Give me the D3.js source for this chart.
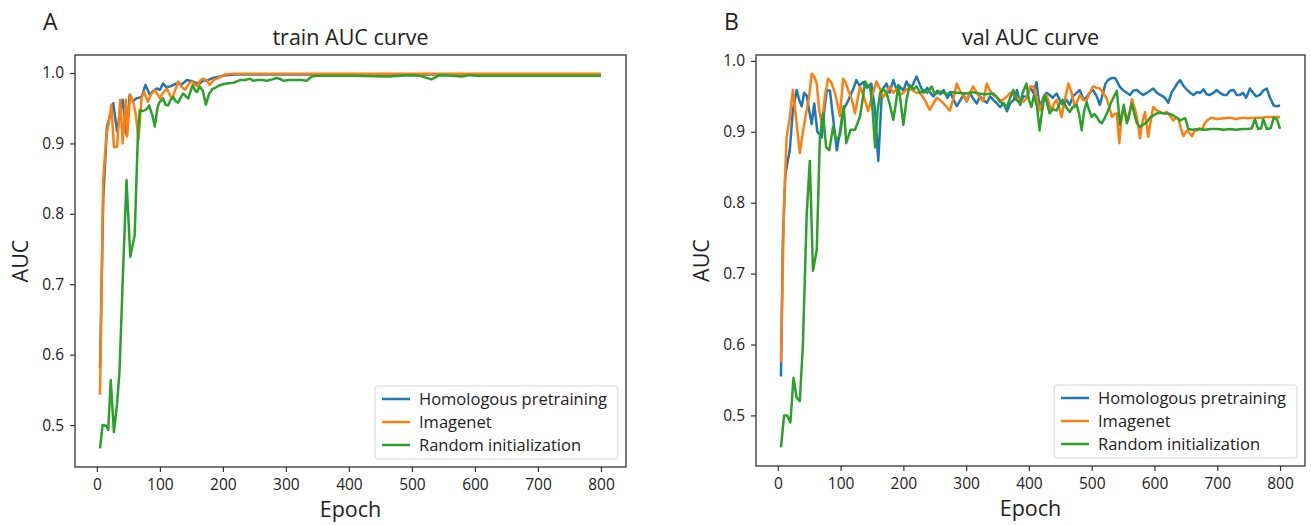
<!DOCTYPE html>
<html>
<head>
<meta charset="utf-8">
<script src="https://cdn.jsdelivr.net/npm/d3@7"></script>
<style>
  body { margin: 0; background: #fff; }
  svg text { font-family: "Open Sans", "DejaVu Sans", sans-serif; fill: #222; }
</style>
</head>
<body>
<svg id="chart" width="1311" height="525"></svg>
<script>
// series names and colours (matplotlib default cycle)
const seriesNames = ['Homologous pretraining', 'Imagenet', 'Random initialization']
const seriesColors = ['#1f77b4', '#ff7f0e', '#2ca02c']
const xTicks = [0, 100, 200, 300, 400, 500, 600, 700, 800]
const yTicks = [0.5, 0.6, 0.7, 0.8, 0.9, 1.0]

// [epoch, AUC]
const trainHomologous = [[5,0.581],[10,0.82],[16,0.924],[21,0.94],[26,0.957],[32,0.917],[37,0.945],[41,0.962],[47,0.912],[52,0.969],[57,0.96],[63,0.964],[71,0.966],[77,0.983],[84,0.969],[90,0.975],[95,0.978],[100,0.976],[105,0.985],[110,0.98],[116,0.981],[121,0.983],[126,0.985],[135,0.984],[143,0.99],[152,0.988],[158,0.986],[163,0.985],[170,0.99],[174,0.989],[184,0.993],[195,0.995],[206,0.997],[220,0.998],[300,0.998],[400,0.998],[500,0.998],[600,0.998],[700,0.998],[800,0.998]]
const trainImagenet = [[5,0.543],[10,0.848],[15,0.91],[19,0.93],[23,0.955],[27,0.895],[32,0.895],[37,0.962],[41,0.90],[46,0.962],[48,0.91],[53,0.969],[58,0.958],[62,0.94],[66,0.905],[71,0.965],[75,0.973],[81,0.959],[86,0.97],[92,0.976],[100,0.964],[105,0.972],[111,0.978],[119,0.963],[124,0.975],[129,0.988],[135,0.98],[140,0.976],[146,0.985],[151,0.988],[159,0.981],[163,0.988],[168,0.992],[174,0.99],[179,0.983],[185,0.99],[190,0.992],[197,0.995],[203,0.998],[215,0.999],[300,0.999],[400,0.999],[500,0.999],[600,0.999],[700,0.999],[800,0.999]]
const trainRandom = [[5,0.467],[9,0.50],[15,0.499],[18,0.493],[22,0.564],[27,0.49],[32,0.53],[36,0.578],[41,0.706],[47,0.848],[53,0.739],[60,0.77],[65,0.91],[68,0.947],[72,0.946],[76,0.947],[80,0.95],[83,0.954],[88,0.94],[92,0.924],[96,0.95],[99,0.958],[105,0.964],[109,0.955],[113,0.954],[117,0.962],[121,0.966],[125,0.96],[129,0.958],[133,0.965],[137,0.971],[141,0.967],[145,0.964],[149,0.975],[152,0.983],[156,0.975],[159,0.973],[163,0.981],[168,0.975],[173,0.955],[178,0.97],[183,0.977],[188,0.979],[193,0.982],[200,0.984],[206,0.985],[216,0.986],[222,0.988],[227,0.99],[235,0.99],[243,0.992],[248,0.989],[255,0.99],[262,0.99],[270,0.989],[278,0.991],[285,0.993],[290,0.992],[296,0.989],[305,0.99],[317,0.99],[325,0.99],[333,0.989],[341,0.995],[350,0.996],[400,0.996],[465,0.995],[480,0.996],[497,0.997],[513,0.996],[531,0.991],[544,0.997],[565,0.996],[579,0.995],[592,0.997],[603,0.996],[700,0.996],[800,0.996]]

const valHomologous = [[5,0.555],[8,0.746],[12,0.84],[19,0.874],[24,0.93],[30,0.959],[34,0.945],[38,0.936],[42,0.955],[46,0.951],[50,0.93],[54,0.911],[58,0.94],[63,0.90],[70,0.892],[74,0.93],[78,0.959],[83,0.958],[88,0.92],[94,0.874],[99,0.90],[104,0.931],[110,0.94],[115,0.950],[120,0.96],[125,0.973],[130,0.965],[136,0.97],[142,0.962],[149,0.968],[155,0.93],[160,0.859],[166,0.959],[173,0.968],[178,0.955],[184,0.973],[189,0.96],[194,0.964],[200,0.958],[205,0.971],[211,0.96],[216,0.968],[221,0.978],[227,0.965],[232,0.955],[238,0.962],[243,0.955],[248,0.950],[254,0.958],[259,0.953],[264,0.959],[270,0.948],[275,0.955],[280,0.945],[285,0.936],[291,0.945],[296,0.952],[301,0.943],[306,0.955],[311,0.947],[317,0.94],[322,0.95],[327,0.945],[333,0.941],[338,0.95],[343,0.945],[349,0.94],[354,0.935],[360,0.94],[365,0.929],[370,0.94],[376,0.945],[381,0.959],[386,0.938],[391,0.95],[397,0.949],[402,0.963],[407,0.955],[412,0.97],[417,0.935],[423,0.948],[428,0.955],[433,0.952],[438,0.948],[444,0.954],[449,0.945],[454,0.938],[460,0.945],[465,0.938],[470,0.95],[476,0.955],[481,0.959],[487,0.945],[492,0.949],[497,0.955],[502,0.959],[508,0.95],[513,0.938],[518,0.955],[522,0.968],[526,0.973],[532,0.976],[537,0.976],[541,0.97],[545,0.963],[551,0.958],[556,0.955],[561,0.952],[566,0.958],[572,0.959],[577,0.955],[582,0.952],[588,0.955],[593,0.958],[598,0.961],[604,0.955],[609,0.952],[614,0.95],[619,0.945],[622,0.941],[627,0.955],[632,0.962],[636,0.968],[641,0.973],[646,0.965],[652,0.959],[657,0.955],[662,0.952],[668,0.956],[673,0.955],[678,0.96],[683,0.953],[688,0.952],[694,0.955],[699,0.959],[704,0.955],[710,0.952],[715,0.952],[720,0.958],[726,0.959],[731,0.952],[736,0.952],[741,0.955],[746,0.948],[752,0.961],[757,0.955],[762,0.95],[768,0.952],[773,0.958],[779,0.961],[784,0.948],[790,0.937],[795,0.936],[800,0.937]]
const valImagenet = [[5,0.575],[10,0.80],[14,0.892],[19,0.92],[24,0.959],[29,0.92],[35,0.87],[40,0.90],[46,0.931],[50,0.95],[54,0.982],[58,0.978],[62,0.968],[66,0.93],[70,0.911],[75,0.95],[80,0.975],[85,0.97],[91,0.955],[95,0.94],[99,0.922],[104,0.975],[108,0.97],[112,0.959],[118,0.945],[123,0.926],[127,0.945],[131,0.964],[137,0.95],[144,0.929],[150,0.95],[157,0.971],[163,0.96],[168,0.949],[173,0.955],[178,0.964],[184,0.955],[189,0.96],[194,0.952],[200,0.955],[205,0.96],[211,0.961],[216,0.958],[221,0.955],[226,0.955],[232,0.948],[237,0.94],[242,0.931],[248,0.94],[253,0.948],[258,0.945],[264,0.94],[269,0.935],[274,0.930],[280,0.948],[285,0.968],[290,0.958],[296,0.95],[301,0.943],[306,0.955],[311,0.964],[317,0.955],[322,0.948],[327,0.943],[333,0.968],[338,0.958],[343,0.952],[349,0.949],[354,0.945],[359,0.945],[365,0.95],[370,0.955],[375,0.952],[381,0.948],[386,0.945],[391,0.942],[396,0.947],[402,0.964],[407,0.964],[412,0.95],[417,0.93],[423,0.945],[428,0.952],[432,0.94],[436,0.93],[440,0.94],[444,0.945],[448,0.935],[452,0.921],[457,0.945],[463,0.968],[468,0.955],[473,0.935],[478,0.945],[481,0.952],[487,0.945],[492,0.945],[497,0.955],[502,0.964],[508,0.962],[513,0.961],[518,0.955],[524,0.947],[528,0.935],[532,0.921],[536,0.925],[540,0.926],[544,0.884],[547,0.915],[550,0.93],[554,0.925],[558,0.916],[564,0.946],[568,0.935],[572,0.921],[577,0.891],[581,0.915],[585,0.928],[590,0.893],[594,0.915],[598,0.935],[604,0.93],[609,0.928],[614,0.926],[620,0.928],[625,0.922],[630,0.916],[634,0.92],[638,0.919],[642,0.905],[646,0.894],[652,0.902],[656,0.898],[660,0.894],[664,0.902],[668,0.902],[672,0.905],[676,0.903],[680,0.912],[684,0.916],[690,0.92],[700,0.918],[710,0.919],[720,0.92],[730,0.918],[740,0.92],[750,0.919],[760,0.92],[770,0.92],[780,0.921],[790,0.921],[800,0.921]]
const valRandom = [[5,0.455],[10,0.50],[15,0.50],[20,0.49],[25,0.553],[30,0.525],[35,0.52],[40,0.60],[46,0.784],[51,0.859],[56,0.704],[62,0.733],[67,0.892],[72,0.926],[77,0.878],[82,0.874],[88,0.907],[93,0.888],[99,0.895],[105,0.936],[109,0.884],[116,0.903],[123,0.903],[131,0.922],[135,0.945],[139,0.971],[143,0.965],[147,0.964],[151,0.93],[155,0.878],[159,0.93],[163,0.955],[168,0.96],[173,0.955],[178,0.94],[184,0.917],[188,0.94],[192,0.966],[196,0.94],[200,0.910],[205,0.945],[210,0.966],[216,0.96],[221,0.964],[227,0.955],[232,0.959],[238,0.955],[245,0.964],[249,0.955],[253,0.954],[258,0.957],[264,0.955],[269,0.953],[275,0.956],[285,0.955],[301,0.954],[310,0.956],[320,0.954],[330,0.953],[343,0.954],[348,0.95],[354,0.942],[360,0.94],[365,0.935],[370,0.948],[375,0.959],[380,0.945],[386,0.940],[390,0.955],[396,0.968],[400,0.945],[404,0.935],[408,0.952],[413,0.935],[417,0.902],[421,0.93],[425,0.952],[429,0.94],[433,0.926],[438,0.932],[444,0.930],[449,0.94],[454,0.945],[459,0.935],[465,0.928],[470,0.935],[476,0.938],[480,0.925],[484,0.902],[488,0.93],[492,0.942],[496,0.93],[500,0.921],[504,0.925],[508,0.921],[512,0.915],[516,0.912],[521,0.92],[526,0.93],[530,0.94],[534,0.947],[540,0.958],[545,0.910],[551,0.938],[556,0.912],[560,0.925],[564,0.94],[568,0.925],[572,0.912],[577,0.907],[582,0.91],[588,0.914],[593,0.92],[598,0.923],[604,0.926],[609,0.927],[614,0.926],[620,0.926],[625,0.925],[630,0.923],[635,0.92],[641,0.916],[645,0.918],[649,0.919],[654,0.904],[660,0.903],[670,0.904],[680,0.903],[690,0.904],[700,0.904],[710,0.903],[720,0.904],[730,0.903],[740,0.904],[750,0.904],[755,0.905],[760,0.918],[765,0.904],[770,0.905],[773,0.918],[779,0.904],[785,0.905],[790,0.92],[795,0.918],[800,0.904]]

const svg = d3.select('#chart')

function panel(opts) {
  const { left, right, top, bottom, title, letter, series } = opts
  const all = series.flat()
  // matplotlib style 5% margins
  const xe = d3.extent(all, (d) => d[0])
  const ye = d3.extent(all, (d) => d[1])
  const xm = (xe[1] - xe[0]) * 0.05
  const ym = (ye[1] - ye[0]) * 0.05
  const x = d3.scaleLinear().domain([xe[0] - xm, xe[1] + xm]).range([left, right])
  const y = d3.scaleLinear().domain([ye[0] - ym, ye[1] + ym]).range([bottom, top])

  const g = svg.append('g')

  const line = d3.line().x((d) => x(d[0])).y((d) => y(d[1]))
  g.append('g')
    .selectAll('path')
    .data(series)
    .enter()
    .append('path')
    .attr('d', line)
    .attr('fill', 'none')
    .attr('stroke', (d, i) => seriesColors[i])
    .attr('stroke-width', 2.5)
    .attr('stroke-linejoin', 'round')

  const xAxis = g.append('g')
    .attr('transform', 'translate(0,' + bottom + ')')
    .call(d3.axisBottom(x).tickValues(xTicks).tickSize(5).tickPadding(7))
  const yAxis = g.append('g')
    .attr('transform', 'translate(' + left + ',0)')
    .call(d3.axisLeft(y).tickValues(yTicks).tickFormat(d3.format('.1f')).tickSize(5).tickPadding(6))
  ;[xAxis, yAxis].forEach((a) => {
    a.select('.domain').remove()
    a.selectAll('line').attr('stroke', '#333').attr('stroke-width', 1.2)
    a.selectAll('text').style('font-size', '15.5px').attr('fill', '#222')
  })

  // frame
  g.append('rect')
    .attr('x', left).attr('y', top)
    .attr('width', right - left).attr('height', bottom - top)
    .attr('fill', 'none').attr('stroke', '#333').attr('stroke-width', 1.3)

  g.append('text')
    .attr('x', (left + right) / 2).attr('y', top - 10)
    .attr('text-anchor', 'middle')
    .style('font-size', '21.5px')
    .text(title)
  g.append('text')
    .attr('x', left - 32).attr('y', 30)
    .style('font-size', '23px')
    .text(letter)
  g.append('text')
    .attr('x', (left + right) / 2).attr('y', bottom + 50)
    .attr('text-anchor', 'middle')
    .style('font-size', '21.5px')
    .text('Epoch')
  g.append('text')
    .attr('transform', 'translate(' + (left - 47) + ',' + (top + bottom) / 2 + ') rotate(-90)')
    .attr('text-anchor', 'middle')
    .style('font-size', '21.5px')
    .text('AUC')

  // legend
  const lw = 243, lh = 73
  const lx = right - 8 - lw, ly = bottom - 8 - lh
  const leg = g.append('g').attr('transform', 'translate(' + lx + ',' + ly + ')')
  leg.append('rect')
    .attr('width', lw).attr('height', lh).attr('rx', 3)
    .attr('fill', '#fff').attr('fill-opacity', 0.85)
    .attr('stroke', '#d5d5d5')
  seriesNames.forEach((name, i) => {
    const cy = 13 + i * 23
    leg.append('line')
      .attr('x1', 7).attr('x2', 35).attr('y1', cy).attr('y2', cy)
      .attr('stroke', seriesColors[i]).attr('stroke-width', 2.5)
    leg.append('text')
      .attr('x', 44).attr('y', cy + 6)
      .style('font-size', '16.5px')
      .text(name)
  })
}

panel({ left: 75, right: 626, top: 55, bottom: 467, title: 'train AUC curve', letter: 'A',
  series: [trainHomologous, trainImagenet, trainRandom] })
panel({ left: 756, right: 1305, top: 55, bottom: 466, title: 'val AUC curve', letter: 'B',
  series: [valHomologous, valImagenet, valRandom] })
</script>
</body>
</html>
